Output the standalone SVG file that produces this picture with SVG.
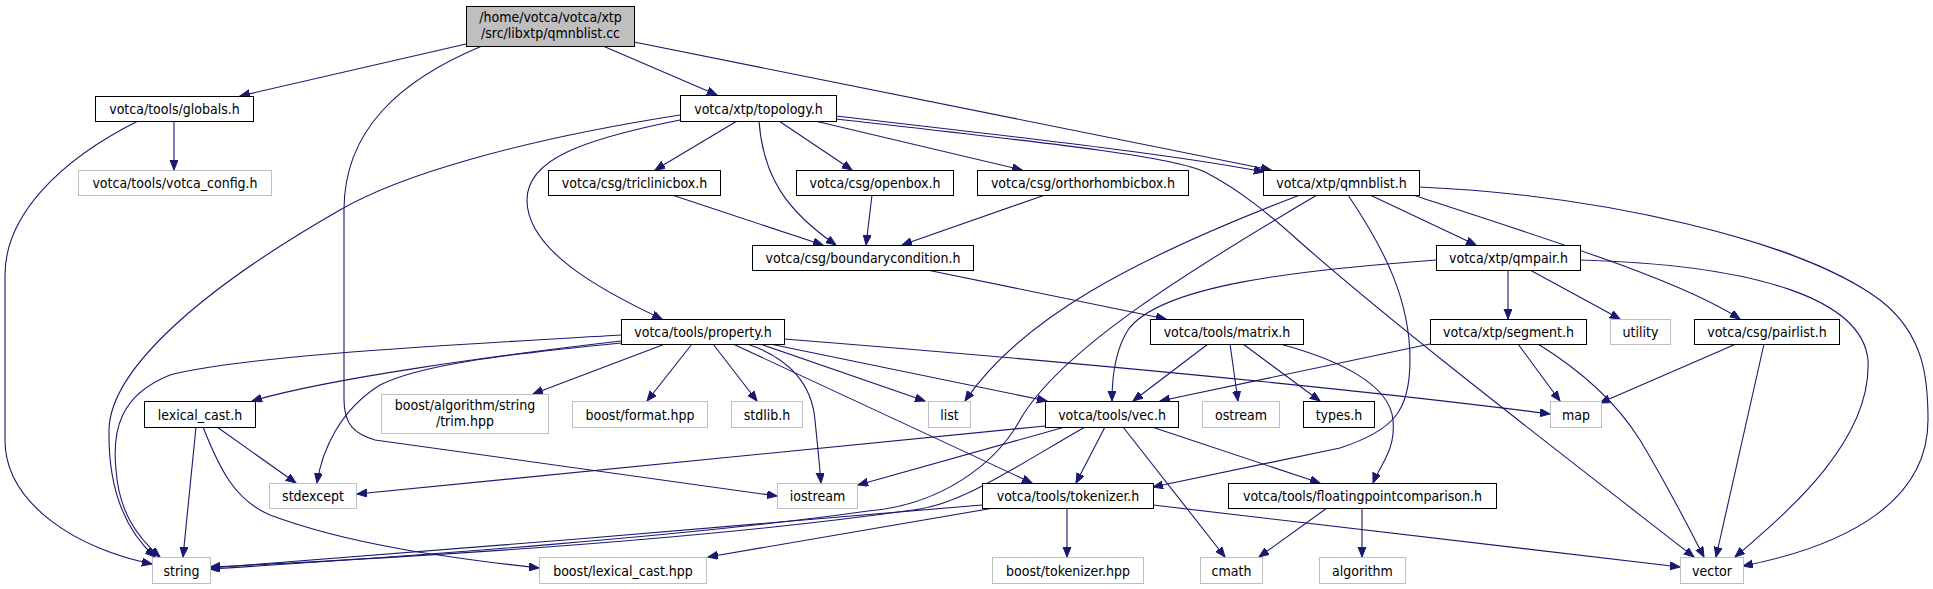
<svg xmlns="http://www.w3.org/2000/svg" width="1933" height="589" viewBox="0 0 1933 589">
<defs>
<marker id="ah" markerUnits="userSpaceOnUse" markerWidth="11" markerHeight="9" refX="10" refY="4" orient="auto">
<path d="M0,0 L10,4 L0,8 z" fill="#191970" stroke="#191970" stroke-width="1"/>
</marker>
</defs>
<style>
.n rect{fill:#fff;stroke:#000;stroke-width:1}
.g rect{fill:#fff;stroke:#bfbfbf;stroke-width:1}
.r rect{fill:#bfbfbf;stroke:#000;stroke-width:1}
text{font-family:"DejaVu Sans Condensed","DejaVu Sans",sans-serif;font-stretch:condensed;font-size:14px;fill:#000;text-anchor:middle}
#edges path{fill:none;stroke:#191970;stroke-width:1.1;marker-end:url(#ah)}
</style>
<rect width="1933" height="589" fill="#fff"/>
<g id="edges">
<path d="M466,44 L240,96"/>
<path d="M482,46 C400,80 344,130 344,210 L344,400 C344,425 355,434 375,440 L777,496"/>
<path d="M603,46 L717,95"/>
<path d="M634,42 L1271,170"/>
<path d="M174,121 L174,170"/>
<path d="M138,121 C60,160 5,215 5,275 L5,440 C5,505 80,550 152,564"/>
<path d="M680,115 C520,140 400,175 340,210 C200,290 110,370 109,430 C108,490 125,530 155,557"/>
<path d="M680,120 C580,140 527,160 527,200 C527,250 600,290 662,319"/>
<path d="M737,121 L655,170"/>
<path d="M759,121 C763,175 785,210 836,245"/>
<path d="M779,121 L852,170"/>
<path d="M815,121 L1022,170"/>
<path d="M836,116 C1000,135 1180,155 1264,172"/>
<path d="M836,119 C1020,140 1170,155 1205,172 C1240,190 1270,215 1300,242 C1400,330 1550,445 1694,557"/>
<path d="M672,195 L823,245"/>
<path d="M872,195 L866,245"/>
<path d="M1045,195 L902,245"/>
<path d="M927,270 L1166,319"/>
<path d="M1300,195 C1130,260 1020,320 965,401"/>
<path d="M1317,195 C1190,270 1060,350 1020,420 C995,465 940,505 868,511 C700,535 420,556 210,569"/>
<path d="M1348,195 C1385,250 1410,300 1410,360 C1410,410 1395,430 1340,448 L1153,487"/>
<path d="M1280,344 C1340,360 1390,385 1393,420 C1396,450 1380,465 1373,483"/>
<path d="M1370,195 L1476,245"/>
<path d="M1413,195 C1550,240 1680,280 1740,319"/>
<path d="M1419,187 C1600,195 1800,240 1880,300 C1925,335 1928,380 1928,420 C1928,500 1850,545 1743,566"/>
<path d="M1436,260 C1300,270 1160,285 1128,330 C1114,352 1112,380 1112,401"/>
<path d="M1508,270 L1508,319"/>
<path d="M1530,270 L1620,319"/>
<path d="M1580,260 C1760,265 1862,300 1868,360 C1872,440 1790,510 1735,557"/>
<path d="M1430,344 L1160,401"/>
<path d="M1518,344 L1560,401"/>
<path d="M1538,344 C1580,370 1615,400 1640,440 C1670,490 1690,530 1704,557"/>
<path d="M1736,344 L1600,403"/>
<path d="M1764,344 L1716,557"/>
<path d="M1208,344 L1133,401"/>
<path d="M1230,344 L1238,401"/>
<path d="M1243,344 L1320,401"/>
<path d="M621,335 C450,345 250,355 170,375 C120,395 112,430 116,470 C119,510 135,535 160,557"/>
<path d="M621,341 C500,355 330,378 252,401"/>
<path d="M621,343 C500,355 420,365 380,385 C340,410 322,450 317,483"/>
<path d="M665,344 L533,394"/>
<path d="M692,344 L647,401"/>
<path d="M713,344 L757,401"/>
<path d="M747,344 C790,358 812,385 815,420 C818,450 820,470 821,483"/>
<path d="M733,344 L1032,483"/>
<path d="M760,344 L925,401"/>
<path d="M770,344 L1047,401"/>
<path d="M784,339 C1050,360 1350,388 1550,414"/>
<path d="M196,427 L183,557"/>
<path d="M217,427 L296,483"/>
<path d="M203,427 C220,470 235,500 270,515 C350,545 450,558 539,568"/>
<path d="M1045,426 L357,494"/>
<path d="M1065,427 L858,485"/>
<path d="M1085,427 C1010,470 960,505 913,510 C700,540 420,557 210,567"/>
<path d="M1105,427 L1076,483"/>
<path d="M1123,427 L1225,557"/>
<path d="M1152,427 L1320,483"/>
<path d="M982,505 C750,525 450,550 210,568"/>
<path d="M994,508 L708,557"/>
<path d="M1067,508 L1067,557"/>
<path d="M1153,505 L1680,567"/>
<path d="M1327,508 L1259,557"/>
<path d="M1362,508 L1362,557"/>
</g>
<g id="root" class="r"><rect x="466.5" y="6.5" width="168" height="40"/><text x="550.5" y="22">/home/votca/votca/xtp</text><text x="550.5" y="38">/src/libxtp/qmnblist.cc</text></g>
<g id="globals" class="n"><rect x="95.5" y="96.5" width="158" height="25"/><text x="174.5" y="114">votca/tools/globals.h</text></g>
<g id="votca_config" class="g"><rect x="78.5" y="170.5" width="193" height="25"/><text x="175" y="188">votca/tools/votca_config.h</text></g>
<g id="topology" class="n"><rect x="680.5" y="95.5" width="156" height="26"/><text x="758.5" y="113.5">votca/xtp/topology.h</text></g>
<g id="triclinicbox" class="n"><rect x="548.5" y="170.5" width="172" height="25"/><text x="634.5" y="188">votca/csg/triclinicbox.h</text></g>
<g id="openbox" class="n"><rect x="796.5" y="170.5" width="157" height="25"/><text x="875" y="188">votca/csg/openbox.h</text></g>
<g id="orthorhombicbox" class="n"><rect x="977.5" y="170.5" width="211" height="25"/><text x="1083" y="188">votca/csg/orthorhombicbox.h</text></g>
<g id="qmnblist" class="n"><rect x="1263.5" y="170.5" width="156" height="25"/><text x="1341.5" y="188">votca/xtp/qmnblist.h</text></g>
<g id="boundarycondition" class="n"><rect x="752.5" y="245.5" width="221" height="25"/><text x="863" y="263">votca/csg/boundarycondition.h</text></g>
<g id="property" class="n"><rect x="621.5" y="319.5" width="163" height="25"/><text x="703" y="337">votca/tools/property.h</text></g>
<g id="matrix" class="n"><rect x="1150.5" y="319.5" width="153" height="25"/><text x="1227" y="337">votca/tools/matrix.h</text></g>
<g id="qmpair" class="n"><rect x="1436.5" y="245.5" width="144" height="25"/><text x="1508.5" y="263">votca/xtp/qmpair.h</text></g>
<g id="segment" class="n"><rect x="1430.5" y="319.5" width="156" height="25"/><text x="1508.5" y="337">votca/xtp/segment.h</text></g>
<g id="utility" class="g"><rect x="1610.5" y="319.5" width="60" height="25"/><text x="1640.5" y="337">utility</text></g>
<g id="pairlist" class="n"><rect x="1694.5" y="319.5" width="145" height="25"/><text x="1767" y="337">votca/csg/pairlist.h</text></g>
<g id="lexical_cast" class="n"><rect x="144.5" y="401.5" width="111" height="26"/><text x="200" y="419.5">lexical_cast.h</text></g>
<g id="trim" class="g"><rect x="381.5" y="394.5" width="167" height="39"/><text x="465" y="410">boost/algorithm/string</text><text x="465" y="426">/trim.hpp</text></g>
<g id="format" class="g"><rect x="572.5" y="401.5" width="135" height="26"/><text x="640" y="419.5">boost/format.hpp</text></g>
<g id="stdlib" class="g"><rect x="731.5" y="401.5" width="71" height="26"/><text x="767" y="419.5">stdlib.h</text></g>
<g id="list" class="g"><rect x="928.5" y="401.5" width="42" height="26"/><text x="949.5" y="419.5">list</text></g>
<g id="vec" class="n"><rect x="1045.5" y="401.5" width="133" height="26"/><text x="1112" y="419.5">votca/tools/vec.h</text></g>
<g id="ostream" class="g"><rect x="1202.5" y="401.5" width="77" height="26"/><text x="1241" y="419.5">ostream</text></g>
<g id="types" class="n"><rect x="1303.5" y="401.5" width="71" height="26"/><text x="1339" y="419.5">types.h</text></g>
<g id="map" class="g"><rect x="1550.5" y="401.5" width="51" height="26"/><text x="1576" y="419.5">map</text></g>
<g id="stdexcept" class="g"><rect x="269.5" y="483.5" width="87" height="25"/><text x="313" y="501">stdexcept</text></g>
<g id="iostream" class="g"><rect x="777.5" y="483.5" width="80" height="25"/><text x="817.5" y="501">iostream</text></g>
<g id="tokenizer" class="n"><rect x="982.5" y="483.5" width="171" height="25"/><text x="1068" y="501">votca/tools/tokenizer.h</text></g>
<g id="floatingpointcomparison" class="n"><rect x="1228.5" y="483.5" width="268" height="25"/><text x="1362.5" y="501">votca/tools/floatingpointcomparison.h</text></g>
<g id="string" class="g"><rect x="152.5" y="557.5" width="58" height="26"/><text x="181.5" y="575.5">string</text></g>
<g id="boost_lexical_cast" class="g"><rect x="539.5" y="557.5" width="167" height="26"/><text x="623" y="575.5">boost/lexical_cast.hpp</text></g>
<g id="boost_tokenizer" class="g"><rect x="992.5" y="557.5" width="151" height="26"/><text x="1068" y="575.5">boost/tokenizer.hpp</text></g>
<g id="cmath" class="g"><rect x="1200.5" y="557.5" width="62" height="26"/><text x="1231.5" y="575.5">cmath</text></g>
<g id="algorithm" class="g"><rect x="1319.5" y="557.5" width="86" height="26"/><text x="1362.5" y="575.5">algorithm</text></g>
<g id="vector" class="g"><rect x="1680.5" y="557.5" width="63" height="26"/><text x="1712" y="575.5">vector</text></g>
</svg>
